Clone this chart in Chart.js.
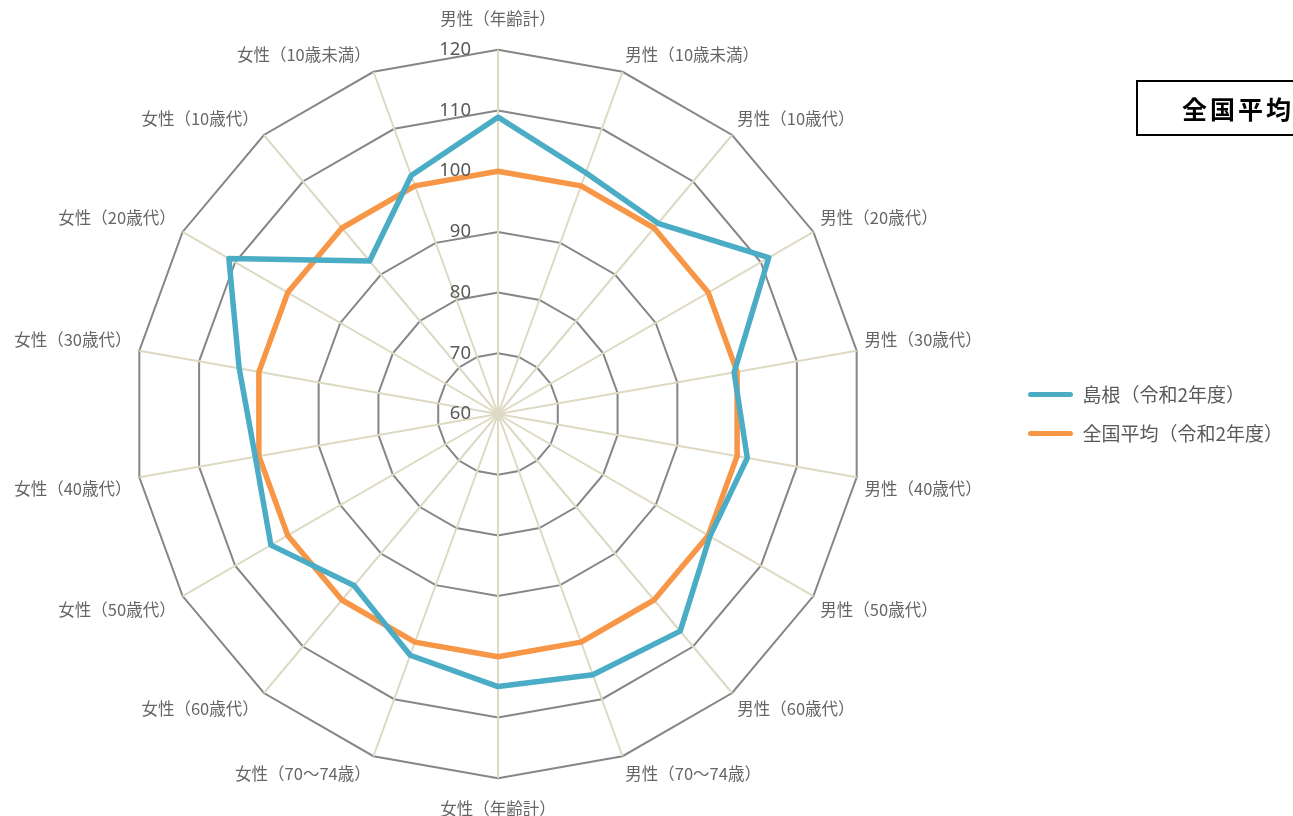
<!DOCTYPE html>
<html lang="ja">
<head>
<meta charset="utf-8">
<title>島根 年齢別レーダーチャート</title>
<script src="https://cdn.jsdelivr.net/npm/chart.js@4"></script>
<style>
  html, body { margin: 0; padding: 0; background: #fff; overflow: hidden; }
  #wrap { position: relative; width: 1293px; height: 816px; overflow: hidden; }
  #radar { position: absolute; left: -10px; top: 0; }
  #note {
    position: absolute; left: 1136px; top: 80px; width: 300px; height: 52px;
    border: 2px solid #000; box-sizing: content-box;
    font: bold 25px "Noto Sans CJK JP", sans-serif; letter-spacing: 3px;
    line-height: 52px; padding-left: 44px; color: #000; white-space: nowrap;
  }
</style>
</head>
<body>
<div id="wrap">
  <canvas id="radar" width="1303" height="819"></canvas>
  <div id="note">全国平均＝100</div>
</div>
<script>
const categories = [
  "男性（年齢計）", "男性（10歳未満）", "男性（10歳代）", "男性（20歳代）",
  "男性（30歳代）", "男性（40歳代）", "男性（50歳代）", "男性（60歳代）",
  "男性（70～74歳）", "女性（年齢計）", "女性（70～74歳）", "女性（60歳代）",
  "女性（50歳代）", "女性（40歳代）", "女性（30歳代）", "女性（20歳代）",
  "女性（10歳代）", "女性（10歳未満）"
];
const shimane = [108.9, 102.3, 101.0, 111.5, 99.5, 101.7, 100.3, 106.7, 105.7,
                 104.9, 102.3, 96.9, 103.2, 100.6, 103.3, 111.2, 92.9, 101.8];
const national = [100, 100, 100, 100, 100, 100, 100, 100, 100,
                  100, 100, 100, 100, 100, 100, 100, 100, 100];
const tickValues = [60, 70, 80, 90, 100, 110, 120];

const labelFont = '"Noto Sans CJK JP", sans-serif';

// tick numbers sit left of the top axis, not centred on it
const tickLabels = {
  id: 'tickLabels',
  afterDraw(chart) {
    const r = chart.scales.r;
    const ctx = chart.ctx;
    ctx.save();
    ctx.font = '18.5px "Noto Sans", sans-serif';
    ctx.fillStyle = '#595959';
    ctx.textAlign = 'right';
    ctx.textBaseline = 'middle';
    tickValues.forEach(v => {
      const p = r.getPointPositionForValue(0, v);
      ctx.fillText(String(v), p.x - 27, p.y);
    });
    ctx.restore();
  }
};

new Chart(document.getElementById('radar'), {
  type: 'radar',
  data: {
    labels: categories,
    datasets: [
      {
        label: '島根（令和2年度）',
        data: shimane,
        borderColor: '#4BACC6',
        backgroundColor: '#4BACC6',
        borderWidth: 5.5,
        fill: false,
        pointRadius: 0,
        borderJoinStyle: 'round'
      },
      {
        label: '全国平均（令和2年度）',
        data: national,
        borderColor: '#F79646',
        backgroundColor: '#F79646',
        borderWidth: 5.5,
        fill: false,
        pointRadius: 0,
        borderJoinStyle: 'round'
      }
    ]
  },
  options: {
    responsive: false,
    animation: false,
    layout: { padding: { top: 9 } },
    scales: {
      r: {
        min: 60,
        max: 120,
        ticks: { stepSize: 10, display: false },
        grid: { color: '#868686', lineWidth: 2 },
        angleLines: { color: '#DDD9C3', lineWidth: 2 },
        pointLabels: {
          color: '#666666',
          font: { family: labelFont, size: 16.5 },
          padding: ctx => (ctx.index === 0 || ctx.index === 9) ? 21 : 8
        }
      }
    },
    plugins: {
      legend: {
        position: 'right',
        labels: {
          color: '#595959',
          font: { family: labelFont, size: 19 },
          boxWidth: 45,
          boxHeight: 5,
          padding: 20,
          useBorderRadius: true,
          borderRadius: 2.5,
          generateLabels(chart) {
            const items = Chart.defaults.plugins.legend.labels.generateLabels(chart);
            items.forEach(it => { it.fillStyle = it.strokeStyle; it.lineWidth = 0; });
            return items;
          }
        }
      },
      tooltip: { enabled: false }
    }
  },
  plugins: [tickLabels]
});
</script>
</body>
</html>
